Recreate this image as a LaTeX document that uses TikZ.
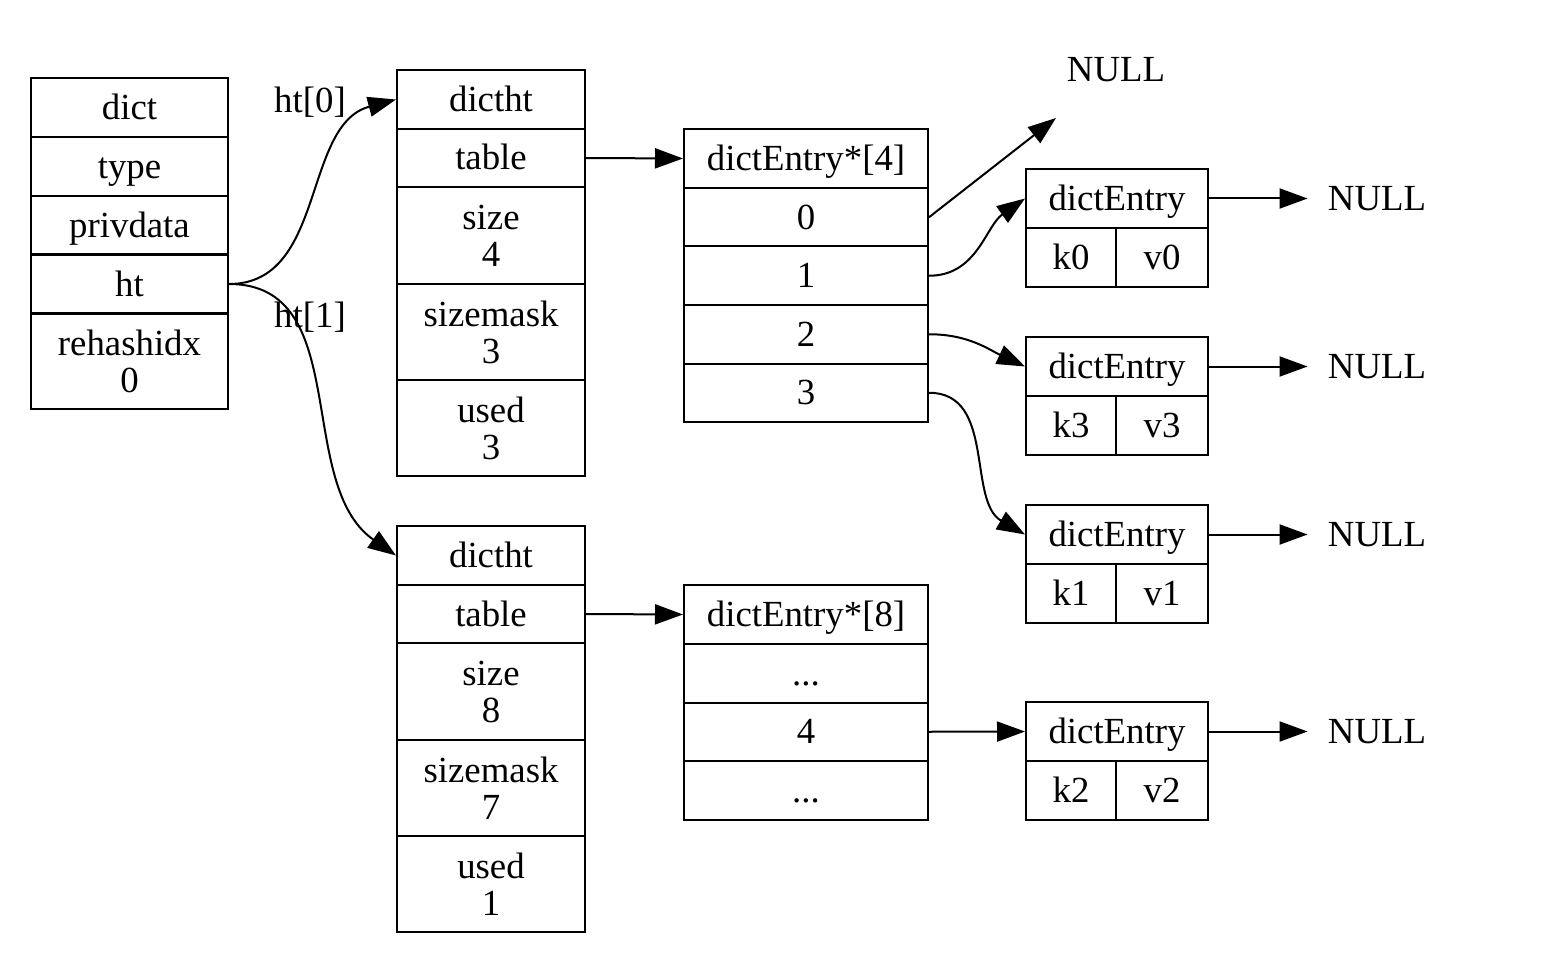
\documentclass[tikz,border=0pt]{standalone}
\usepackage{fontspec}
\setmainfont{Liberation Serif}
\usetikzlibrary{arrows.meta}

\tikzset{
  box/.style={draw, line width=1pt, inner sep=0pt, align=center,
    font=\fontsize{18.4}{18.5}\selectfont},
  cell/.style={box, text height=12pt, text depth=0pt},
  tall/.style={box},
  lbl/.style={inner sep=0pt, font=\fontsize{18.4}{18.5}\selectfont},
  link/.style={line width=1pt, -{Triangle[length=14pt,width=10pt]}}
}

\begin{document}
\begin{tikzpicture}[x=0.5pt,y=-0.5pt]
\useasboundingbox (0,0) rectangle (1546,968);

% dict
\foreach \n/\t/\y in {dict/dict/107.5, type/type/166.5, priv/privdata/225.5, ht/ht/284}
  \node[cell, minimum width=98.5pt, minimum height=29.5pt] (d-\n) at (129.5,\y) {\t};
\node[tall, minimum width=98.5pt, minimum height=48pt] (d-rehash) at (129.5,361) {rehashidx\\0};

% dictht
\foreach \k/\top/\s/\m/\u in {0/70/4/3/3, 1/526/8/7/1} {
  \node[cell, minimum width=94pt, minimum height=29.5pt] (t\k-head) at (491,{\top+29.5}) {dictht};
  \node[cell, minimum width=94pt, minimum height=29pt] (t\k-table) at (491,{\top+88}) {table};
  \node[tall, minimum width=94pt, minimum height=48.5pt] (t\k-size) at (491,{\top+165.5}) {size\\\s};
  \node[tall, minimum width=94pt, minimum height=48pt] (t\k-mask) at (491,{\top+262}) {sizemask\\\m};
  \node[tall, minimum width=94pt, minimum height=48pt] (t\k-used) at (491,{\top+358}) {used\\\u};
}

% bucket arrays
\node[cell, minimum width=122pt, minimum height=29.5pt] (a0-head) at (806,158.5) {dictEntry*[4]};
\foreach \i in {0,1,2,3}
  \node[cell, minimum width=122pt, minimum height=29.25pt] (a0-\i) at (806,{217.25+58.5*\i}) {\i};
\node[cell, minimum width=122pt, minimum height=29.5pt] (a1-head) at (806,614.5) {dictEntry*[8]};
\node[cell, minimum width=122pt, minimum height=29.25pt] (a1-top) at (806,673.25) {...};
\node[cell, minimum width=122pt, minimum height=29.25pt] (a1-4) at (806,731.75) {4};
\node[cell, minimum width=122pt, minimum height=29.25pt] (a1-bot) at (806,790.25) {...};

% entries
\foreach \k/\top in {0/169, 3/337, 1/505, 2/702} {
  \node[cell, minimum width=91pt, minimum height=29.5pt] (e\k) at (1117,{\top+29.5}) {dictEntry};
  \node[cell, minimum width=45pt, minimum height=29.5pt] (k\k) at (1071,{\top+88.5}) {k\k};
  \node[cell, minimum width=46pt, minimum height=29.5pt] (v\k) at (1162,{\top+88.5}) {v\k};
  \node[lbl, inner xsep=10pt] (n\k) at (1377,{\top+29.5}) {NULL};
  \draw[link] (e\k.east) -- (n\k.west);
}
\node[lbl] (n-top) at (1116,70) {NULL};
\coordinate (n-top-end) at (1056,118);

% links
\draw[link] (d-ht.east) to[out=0,in=195] (t0-head.west);
\draw[link] (d-ht.east) to[out=0,in=145] (t1-head.west);
\node[lbl] (l-ht0) at (310,102) {ht[0]};
\node[lbl] (l-ht1) at (310,317) {ht[1]};
\draw[link] (t0-table.east) -- (a0-head.west);
\draw[link] (t1-table.east) -- (a1-head.west);
\draw[link] (a0-0.east) -- (n-top-end);
\draw[link] (a0-1.east) to[out=0,in=215] (e0.west);
\draw[link] (a0-2.east) to[out=0,in=155] (e3.west);
\draw[link] (a0-3.east) to[out=0,in=150] (e1.west);
\draw[link] (a1-4.east) -- (e2.west);

\end{tikzpicture}
\end{document}
